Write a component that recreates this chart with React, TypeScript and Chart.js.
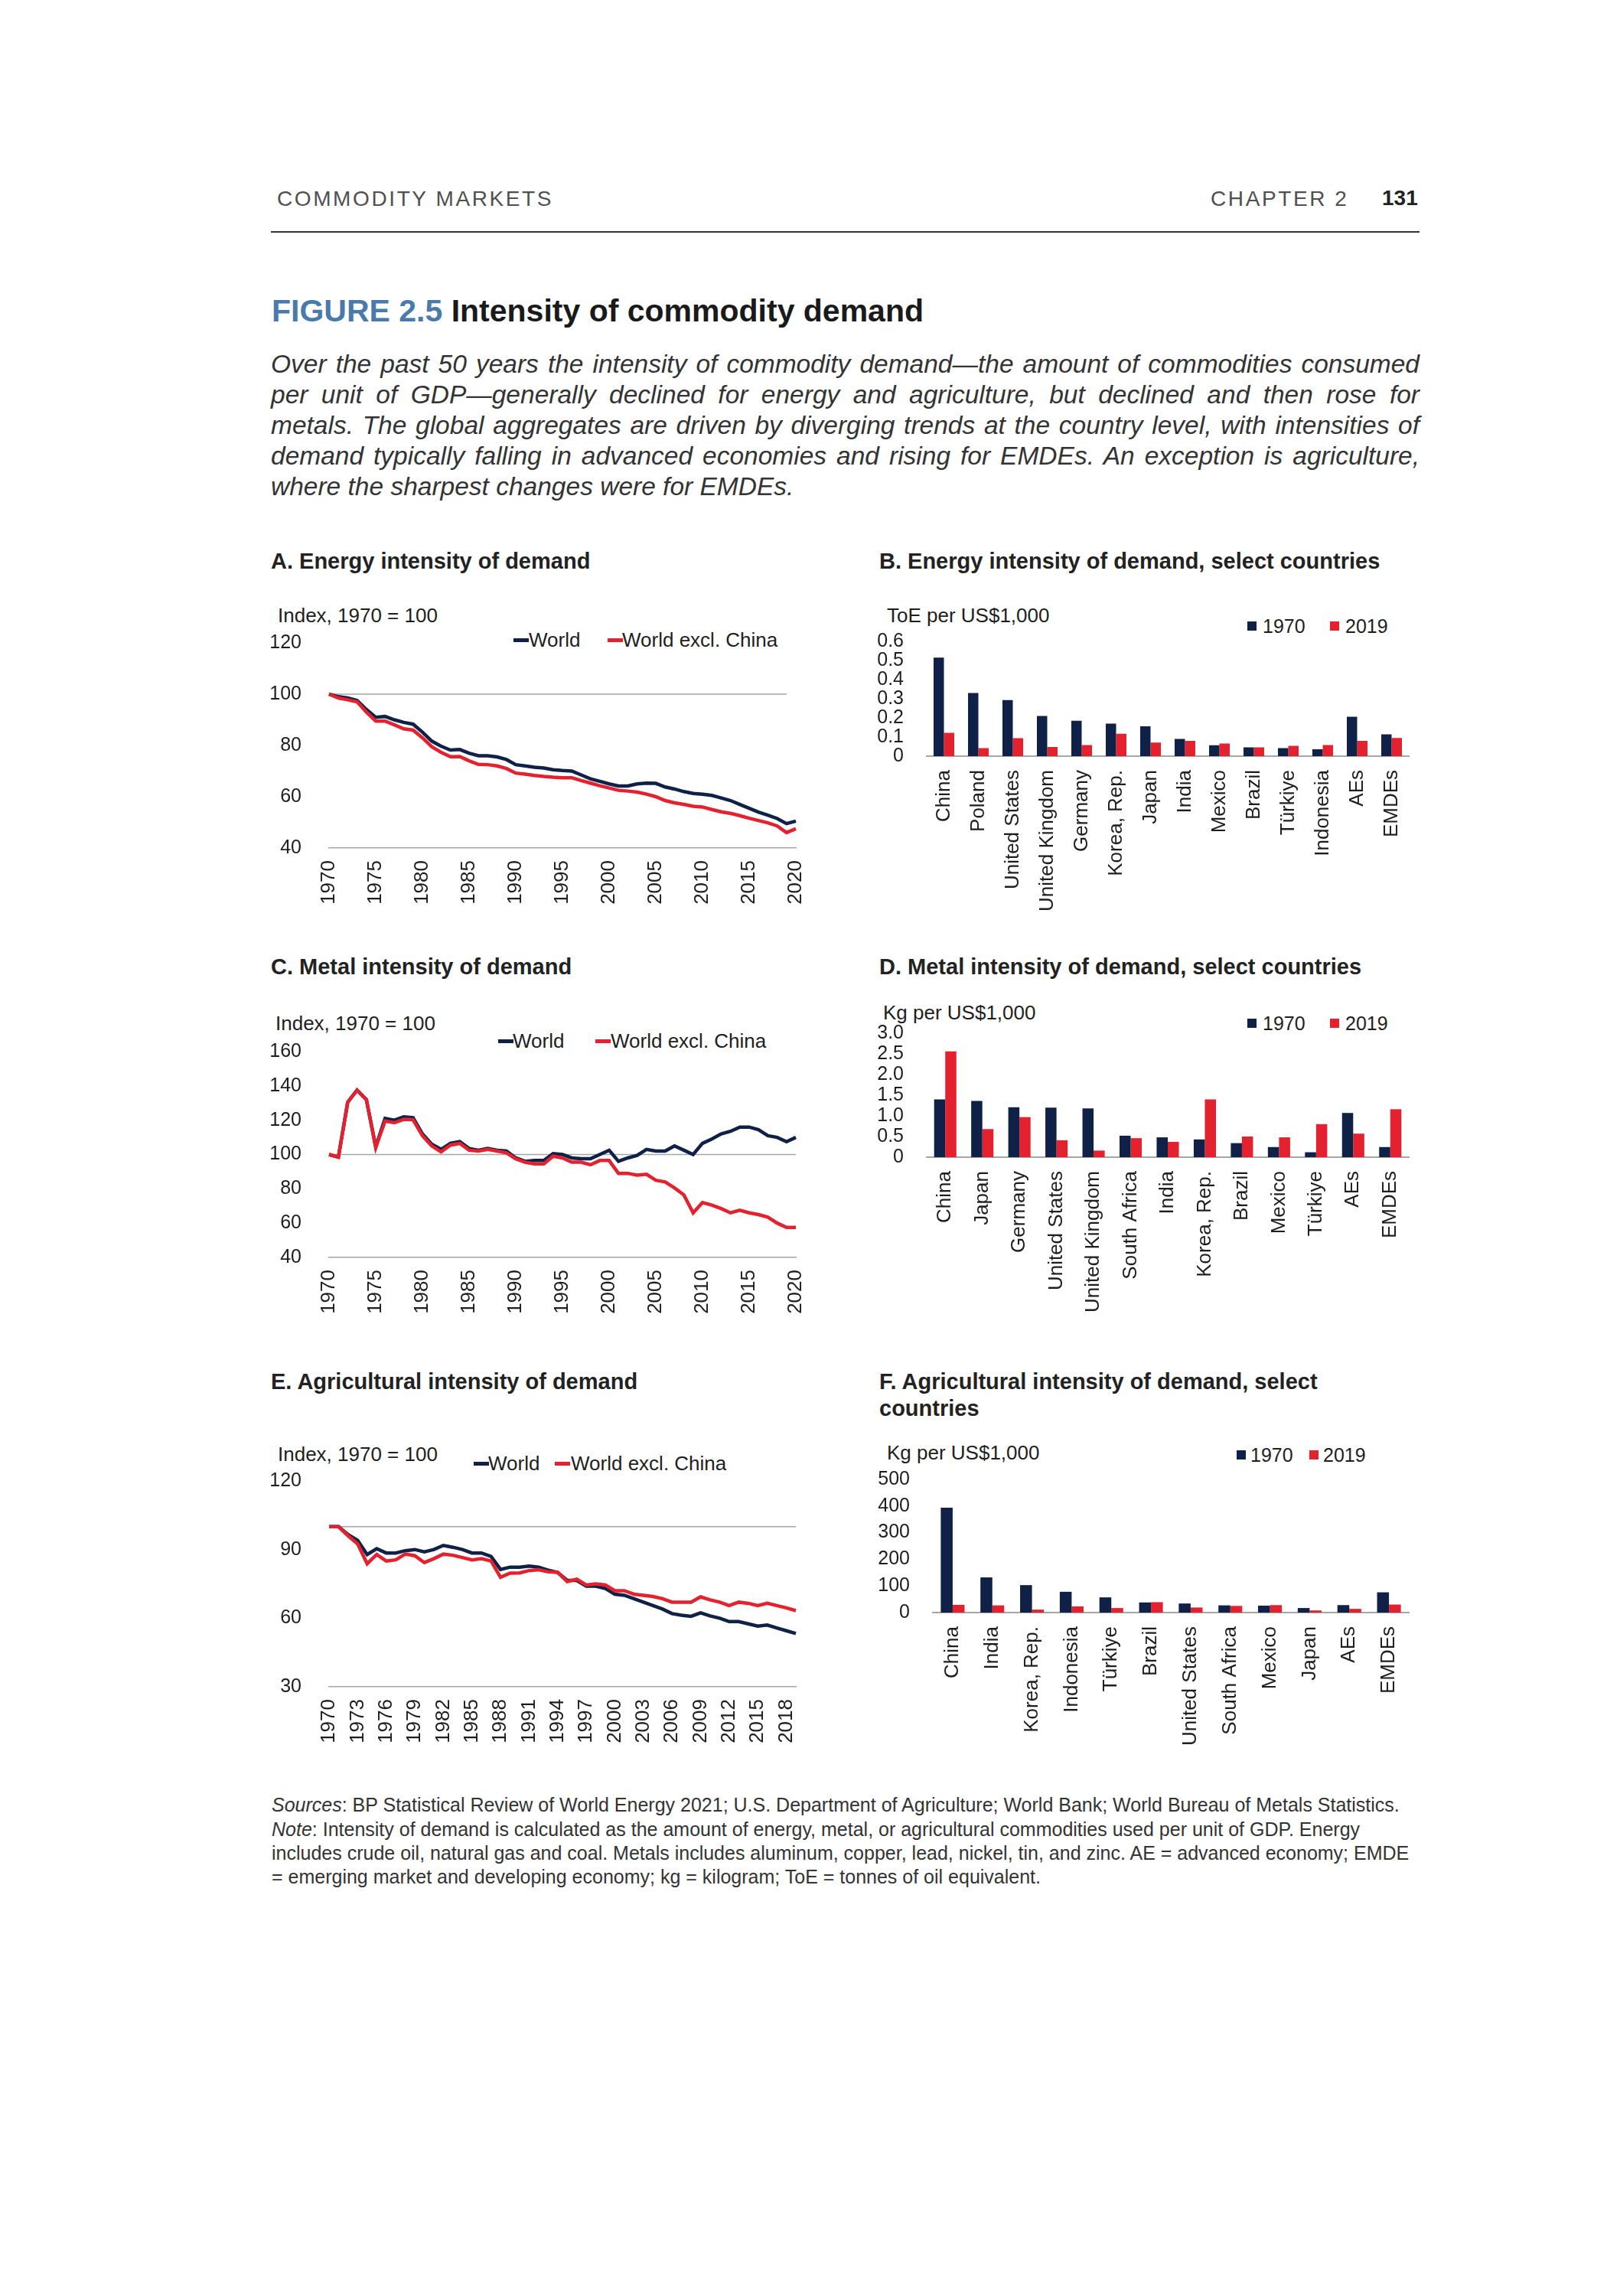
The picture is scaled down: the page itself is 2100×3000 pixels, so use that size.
import React, { useEffect, useRef } from 'react';
import { Chart, registerables } from 'chart.js';

Chart.register(...registerables);

const FONT = "'Liberation Sans', Arial, Helvetica, sans-serif";
const NAVY = '#0f2147';
const RED = '#e4222f';
const AXIS = '#a6a6a6';
const INK = '#1e1e1e';
const BODY = '#333333';
const BLUE = '#4a7aaa';

// ---------- Data ----------
const YEARS = [
  '1970','1971','1972','1973','1974','1975','1976','1977','1978','1979',
  '1980','1981','1982','1983','1984','1985','1986','1987','1988','1989',
  '1990','1991','1992','1993','1994','1995','1996','1997','1998','1999',
  '2000','2001','2002','2003','2004','2005','2006','2007','2008','2009',
  '2010','2011','2012','2013','2014','2015','2016','2017','2018','2019','2020',
];
const AGRI_YEARS = YEARS.slice(0, 50);

const energyWorld = [
  100, 99, 98.5, 97.5, 94, 91, 91.3, 90, 89, 88.3,
  85.2, 81.7, 79.7, 78.2, 78.4, 77, 76, 76, 75.5, 74.5,
  72.5, 72, 71.5, 71.2, 70.5, 70.2, 70, 68.5, 67, 66,
  65, 64.2, 64.2, 65, 65.3, 65.2, 63.8, 63, 62, 61.3,
  61, 60.5, 59.5, 58.5, 57, 55.5, 54, 52.8, 51.5, 49.5, 50.5,
];
const energyExChina = [
  100, 98.5, 97.8, 97, 93, 89.5, 89.5, 88, 86.5, 86,
  83, 79.5, 77.3, 75.6, 75.7, 74, 72.6, 72.5, 72, 71,
  69.2, 68.8, 68.3, 67.9, 67.6, 67.4, 67.4, 66.3, 65.3, 64.3,
  63.4, 62.5, 62.2, 61.8, 61, 60, 58.5, 57.6, 57, 56.3,
  56, 55, 54.1, 53.5, 52.6, 51.6, 50.7, 49.8, 48.6, 46, 47.5,
];

const metalWorld = [
  100, 98.5, 130.5, 137.5, 132, 104.5, 121, 120, 122, 121.5,
  112, 106, 103, 106.5, 107.5, 103.5, 102.5, 103.5, 102.5, 102,
  98, 96, 96.5, 96.5, 100.5, 100, 98, 97.5, 97.5, 100,
  102.5, 96, 98, 99.5, 103, 102, 102, 105, 102.5, 100,
  106.5, 109, 112, 113.5, 116, 116, 114.5, 111, 110, 107.5, 110,
];
const metalExChina = [
  100, 98.5, 130.5, 137.5, 132, 104, 119.5, 118.5, 120.5, 120.3,
  111, 105, 101.5, 105.5, 106.5, 102.5, 102, 103, 102, 101,
  97.5, 95.5, 94.5, 94.5, 99, 98, 95.5, 95.5, 94, 96.5,
  96.5, 89, 89, 88, 88.5, 85, 84, 80.5, 76.5, 66,
  72, 70.5, 68.5, 66, 67.5, 66, 65, 63.5, 60, 57.5, 57.5,
];

const agriWorld = [
  100, 100, 96.5, 94, 87.8, 90.4, 88.5, 88.5, 89.5, 90,
  89, 90, 91.8, 91, 90, 88.5, 88.5, 87, 81.3, 82.3,
  82.3, 82.8, 82.3, 81, 80, 76.5, 76.5, 74, 74, 73,
  70.5, 70, 68.5, 67, 65.5, 64, 62, 61.3, 60.8, 62.3,
  61, 60, 58.5, 58.5, 57.5, 56.5, 57, 55.7, 54.5, 53.3,
];
const agriExChina = [
  100, 100, 96, 92.5, 83.8, 87.8, 85, 85.5, 88, 87.3,
  84.3, 86, 88, 87.5, 86.5, 85.5, 86, 85, 77.9, 79.7,
  79.8, 80.8, 81.2, 80.3, 80, 76, 77, 74.5, 75, 74.5,
  72, 72, 70.5, 70, 69.5, 68.5, 67, 67, 67, 69.3,
  68, 67, 65.5, 67, 66.5, 65.5, 66.5, 65.5, 64.5, 63.3,
];

const energyCountries = [
  'China', 'Poland', 'United States', 'United Kingdom', 'Germany', 'Korea, Rep.', 'Japan',
  'India', 'Mexico', 'Brazil', 'Türkiye', 'Indonesia', 'AEs', 'EMDEs',
];
const energy1970 = [0.515, 0.33, 0.293, 0.21, 0.185, 0.17, 0.156, 0.09, 0.057, 0.046, 0.042, 0.036, 0.206, 0.114];
const energy2019 = [0.122, 0.042, 0.094, 0.048, 0.058, 0.117, 0.071, 0.08, 0.066, 0.046, 0.054, 0.058, 0.08, 0.095];

const metalCountries = [
  'China', 'Japan', 'Germany', 'United States', 'United Kingdom', 'South Africa', 'India',
  'Korea, Rep.', 'Brazil', 'Mexico', 'Türkiye', 'AEs', 'EMDEs',
];
const metal1970 = [1.4, 1.36, 1.21, 1.2, 1.18, 0.52, 0.48, 0.43, 0.34, 0.245, 0.12, 1.07, 0.245];
const metal2019 = [2.56, 0.68, 0.97, 0.41, 0.16, 0.46, 0.37, 1.4, 0.5, 0.48, 0.8, 0.57, 1.16];

const agriCountries = [
  'China', 'India', 'Korea, Rep.', 'Indonesia', 'Türkiye', 'Brazil', 'United States',
  'South Africa', 'Mexico', 'Japan', 'AEs', 'EMDEs',
];
const agri1970 = [394, 132, 103, 78, 57, 38, 34, 27, 26, 17, 28, 76];
const agri2019 = [29, 27, 11, 23, 17, 39, 19, 25, 28, 8, 14, 30];

// ---------- Chart helpers ----------
// L/R/T/B: page coords of the plot area; YW: y-axis box width; TOP: space Chart.js keeps above
// the plot (half tick-label height + y tick padding); PR: right padding; XH: x-axis box height.
type Box = { L: number; R: number; T: number; B: number; YW: number; TOP: number; PR: number; XH: number; YPAD: number };

const refLinePlugin = {
  id: 'refLine',
  beforeDatasetsDraw(chart: any, _args: any, opts: any) {
    if (!opts || opts.value == null) return;
    const y = chart.scales.y.getPixelForValue(opts.value);
    const { left, right } = chart.chartArea;
    const xEnd = opts.endIndex != null ? chart.scales.x.getPixelForValue(opts.endIndex) : right;
    const ctx = chart.ctx;
    ctx.save();
    ctx.strokeStyle = opts.color || AXIS;
    ctx.lineWidth = opts.width || 1.5;
    ctx.beginPath();
    ctx.moveTo(left, y);
    ctx.lineTo(xEnd, y);
    ctx.stroke();
    ctx.restore();
  },
};

function ChartBox({ box, build }: { box: Box; build: () => any }) {
  const ref = useRef<HTMLCanvasElement | null>(null);
  const W = box.YW + (box.R - box.L) + box.PR;
  const H = box.TOP + (box.B - box.T) + box.XH;
  useEffect(() => {
    const chart = new Chart(ref.current as HTMLCanvasElement, build());
    return () => chart.destroy();
  }, []);
  return (
    <canvas
      ref={ref}
      width={W}
      height={H}
      style={{ position: 'absolute', left: box.L - box.YW, top: box.T - box.TOP, width: W, height: H }}
    />
  );
}

function lineConfig(
  box: Box,
  labels: string[],
  world: number[],
  exChina: number[],
  yMin: number,
  yMax: number,
  step: number,
  every: number,
  refEnd: number | null,
) {
  return {
    type: 'line',
    data: {
      labels,
      datasets: [
        { label: 'World', data: world, borderColor: NAVY, backgroundColor: NAVY, borderWidth: 4.5, pointRadius: 0, tension: 0, order: 1 },
        { label: 'World excl. China', data: exChina, borderColor: RED, backgroundColor: RED, borderWidth: 4.5, pointRadius: 0, tension: 0, order: 0 },
      ],
    },
    options: {
      responsive: false,
      animation: false,
      devicePixelRatio: 1,
      layout: { padding: { left: 0, top: 0, right: box.PR, bottom: 0 } },
      plugins: {
        legend: { display: false },
        tooltip: { enabled: false },
        refLine: { value: 100, endIndex: refEnd, color: AXIS, width: 1.5 },
      },
      scales: {
        x: {
          type: 'category',
          offset: false,
          grid: { display: false },
          border: { display: true, color: AXIS, width: 1.5 },
          ticks: {
            autoSkip: false,
            minRotation: 90,
            maxRotation: 90,
            padding: 8,
            color: INK,
            font: { family: FONT, size: 26 },
            callback: (_v: any, i: number) => (i % every === 0 ? labels[i] : ''),
          },
          afterFit: (s: any) => { s.height = box.XH; },
        },
        y: {
          min: yMin,
          max: yMax,
          grid: { display: false },
          border: { display: false },
          ticks: { stepSize: step, autoSkip: false, padding: box.YPAD, color: INK, font: { family: FONT, size: 25 } },
          afterFit: (s: any) => { s.width = box.YW; },
        },
      },
    },
    plugins: [refLinePlugin],
  };
}

function barConfig(
  box: Box,
  labels: string[],
  a: number[],
  b: number[],
  yMax: number,
  step: number,
  fmt: (v: number) => string,
) {
  return {
    type: 'bar',
    data: {
      labels,
      datasets: [
        { label: '1970', data: a, backgroundColor: NAVY, borderWidth: 0, categoryPercentage: 0.6, barPercentage: 1.0 },
        { label: '2019', data: b, backgroundColor: RED, borderWidth: 0, categoryPercentage: 0.6, barPercentage: 1.0 },
      ],
    },
    options: {
      responsive: false,
      animation: false,
      devicePixelRatio: 1,
      layout: { padding: { left: 0, top: 0, right: box.PR, bottom: 0 } },
      plugins: { legend: { display: false }, tooltip: { enabled: false } },
      scales: {
        x: {
          grid: { display: false },
          border: { display: true, color: AXIS, width: 2 },
          ticks: {
            autoSkip: false,
            minRotation: 90,
            maxRotation: 90,
            padding: 10,
            color: INK,
            font: { family: FONT, size: 26 },
          },
          afterFit: (s: any) => { s.height = box.XH; },
        },
        y: {
          min: 0,
          max: yMax,
          grid: { display: false },
          border: { display: false },
          ticks: {
            stepSize: step,
            autoSkip: false,
            padding: box.YPAD,
            color: INK,
            font: { family: FONT, size: 25 },
            callback: (v: any) => fmt(Number(v)),
          },
          afterFit: (s: any) => { s.width = box.YW; },
        },
      },
    },
  };
}

// ---------- Text helpers ----------
function T(props: {
  x: number; y: number; size: number; bold?: boolean; italic?: boolean; color?: string; ls?: number; children: any;
}) {
  const { x, y, size, bold, italic, color, ls, children } = props;
  return (
    <div
      style={{
        position: 'absolute',
        left: x,
        top: y - size * 0.59,
        fontSize: size,
        lineHeight: `${size * 1.2}px`,
        fontFamily: FONT,
        fontWeight: bold ? 700 : 400,
        fontStyle: italic ? 'italic' : 'normal',
        color: color || INK,
        letterSpacing: ls || 0,
        whiteSpace: 'nowrap',
      }}
    >
      {children}
    </div>
  );
}

function LineKey({ x, tx, y, color, label }: { x: number; tx: number; y: number; color: string; label: string }) {
  return (
    <>
      <div style={{ position: 'absolute', left: x, top: y - 2.5, width: 20, height: 5, background: color }} />
      <T x={tx} y={y} size={26}>{label}</T>
    </>
  );
}

function BoxKey({ x, tx, y, color, label }: { x: number; tx: number; y: number; color: string; label: string }) {
  return (
    <>
      <div style={{ position: 'absolute', left: x, top: y - 6, width: 12, height: 12, background: color }} />
      <T x={tx} y={y} size={25}>{label}</T>
    </>
  );
}

const PARA = [
  'Over the past 50 years the intensity of commodity demand\u2014the amount of commodities consumed',
  'per unit of GDP\u2014generally declined for energy and agriculture, but declined and then rose for',
  'metals. The global aggregates are driven by diverging trends at the country level, with intensities of',
  'demand typically falling in advanced economies and rising for EMDEs. An exception is agriculture,',
  'where the sharpest changes were for EMDEs.',
];

// ---------- Chart boxes ----------
// Chart.js keeps (tick line height / 2 + y tick padding) above the plot: 15 + YPAD.
const boxA: Box = { L: 430, R: 1040, T: 840, B: 1108, YW: 90, YPAD: 28, TOP: 43, PR: 45, XH: 110 };
const boxC: Box = { L: 430, R: 1040, T: 1374, B: 1643, YW: 90, YPAD: 28, TOP: 43, PR: 45, XH: 110 };
const boxE: Box = { L: 430, R: 1040, T: 1935, B: 2204, YW: 90, YPAD: 28, TOP: 43, PR: 45, XH: 110 };
const boxB: Box = { L: 1211, R: 1841, T: 838, B: 988, YW: 80, YPAD: 22, TOP: 37, PR: 40, XH: 230 };
const boxD: Box = { L: 1211, R: 1841, T: 1350, B: 1512, YW: 80, YPAD: 22, TOP: 37, PR: 40, XH: 230 };
const boxF: Box = { L: 1219, R: 1841, T: 1933, B: 2107, YW: 80, YPAD: 22, TOP: 37, PR: 40, XH: 230 };

const fmt1 = (v: number) => (v === 0 ? '0' : v.toFixed(1));
const fmt0 = (v: number) => String(Math.round(v));

export default function App() {
  return (
    <div style={{ position: 'absolute', left: 0, top: 0, width: 2100, height: 3000, background: '#ffffff', overflow: 'hidden' }}>
      {/* Header */}
      <T x={362} y={260} size={28} ls={2.6} color="#505050">COMMODITY MARKETS</T>
      <T x={1582} y={260} size={28} ls={2.6} color="#505050">CHAPTER 2</T>
      <T x={1806} y={259} size={28} bold color="#222">131</T>
      <div style={{ position: 'absolute', left: 354, top: 302, width: 1501, height: 2, background: '#333' }} />

      {/* Title */}
      <T x={355} y={406} size={41} bold color="#1a1a1a">
        <span style={{ color: BLUE }}>FIGURE 2.5</span> Intensity of commodity demand
      </T>

      {/* Paragraph */}
      {PARA.map((line, i) => (
        <div
          key={i}
          style={{
            position: 'absolute',
            left: 354,
            top: 476 + i * 40 - 33.5 * 0.59,
            width: 1501,
            fontSize: 33.5,
            lineHeight: `${33.5 * 1.2}px`,
            fontFamily: FONT,
            fontStyle: 'italic',
            color: BODY,
            textAlign: i < PARA.length - 1 ? 'justify' : 'left',
            textAlignLast: i < PARA.length - 1 ? 'justify' : 'left',
          } as any}
        >
          {line}
        </div>
      ))}

      {/* Panel titles */}
      <T x={354} y={733} size={29} bold color="#222">A. Energy intensity of demand</T>
      <T x={1149} y={733} size={29} bold color="#222">B. Energy intensity of demand, select countries</T>
      <T x={354} y={1263} size={29} bold color="#222">C. Metal intensity of demand</T>
      <T x={1149} y={1263} size={29} bold color="#222">D. Metal intensity of demand, select countries</T>
      <T x={354} y={1805} size={29} bold color="#222">E. Agricultural intensity of demand</T>
      <T x={1149} y={1805} size={29} bold color="#222">F. Agricultural intensity of demand, select</T>
      <T x={1149} y={1840} size={29} bold color="#222">countries</T>

      {/* Panel A */}
      <T x={363} y={804} size={26}>Index, 1970 = 100</T>
      <LineKey x={671} tx={691} y={836} color={NAVY} label="World" />
      <LineKey x={794} tx={813} y={836} color={RED} label="World excl. China" />
      <ChartBox box={boxA} build={() => lineConfig(boxA, YEARS, energyWorld, energyExChina, 40, 120, 20, 5, 49)} />

      {/* Panel B */}
      <T x={1159} y={804} size={26}>ToE per US$1,000</T>
      <BoxKey x={1630} tx={1650} y={818} color={NAVY} label="1970" />
      <BoxKey x={1738} tx={1758} y={818} color={RED} label="2019" />
      <ChartBox box={boxB} build={() => barConfig(boxB, energyCountries, energy1970, energy2019, 0.6, 0.1, fmt1)} />

      {/* Panel C */}
      <T x={360} y={1337} size={26}>Index, 1970 = 100</T>
      <LineKey x={651} tx={670} y={1360} color={NAVY} label="World" />
      <LineKey x={778} tx={798} y={1360} color={RED} label="World excl. China" />
      <ChartBox box={boxC} build={() => lineConfig(boxC, YEARS, metalWorld, metalExChina, 40, 160, 20, 5, null)} />

      {/* Panel D */}
      <T x={1154} y={1323} size={26}>Kg per US$1,000</T>
      <BoxKey x={1630} tx={1650} y={1337} color={NAVY} label="1970" />
      <BoxKey x={1738} tx={1758} y={1337} color={RED} label="2019" />
      <ChartBox box={boxD} build={() => barConfig(boxD, metalCountries, metal1970, metal2019, 3.0, 0.5, fmt1)} />

      {/* Panel E */}
      <T x={363} y={1900} size={26}>Index, 1970 = 100</T>
      <LineKey x={619} tx={638} y={1912} color={NAVY} label="World" />
      <LineKey x={725} tx={746} y={1912} color={RED} label="World excl. China" />
      <ChartBox box={boxE} build={() => lineConfig(boxE, AGRI_YEARS, agriWorld, agriExChina, 30, 120, 30, 3, null)} />

      {/* Panel F */}
      <T x={1159} y={1898} size={26}>Kg per US$1,000</T>
      <BoxKey x={1616} tx={1634} y={1901} color={NAVY} label="1970" />
      <BoxKey x={1711} tx={1729} y={1901} color={RED} label="2019" />
      <ChartBox box={boxF} build={() => barConfig(boxF, agriCountries, agri1970, agri2019, 500, 100, fmt0)} />

      {/* Footer */}
      <T x={355} y={2358} size={25} color={BODY}><i>Sources</i>: BP Statistical Review of World Energy 2021; U.S. Department of Agriculture; World Bank; World Bureau of Metals Statistics.</T>
      <T x={355} y={2390} size={25} color={BODY}><i>Note</i>: Intensity of demand is calculated as the amount of energy, metal, or agricultural commodities used per unit of GDP. Energy</T>
      <T x={355} y={2421} size={25} color={BODY}>includes crude oil, natural gas and coal. Metals includes aluminum, copper, lead, nickel, tin, and zinc. AE = advanced economy; EMDE</T>
      <T x={355} y={2452} size={25} color={BODY}>= emerging market and developing economy; kg = kilogram; ToE = tonnes of oil equivalent.</T>
    </div>
  );
}
